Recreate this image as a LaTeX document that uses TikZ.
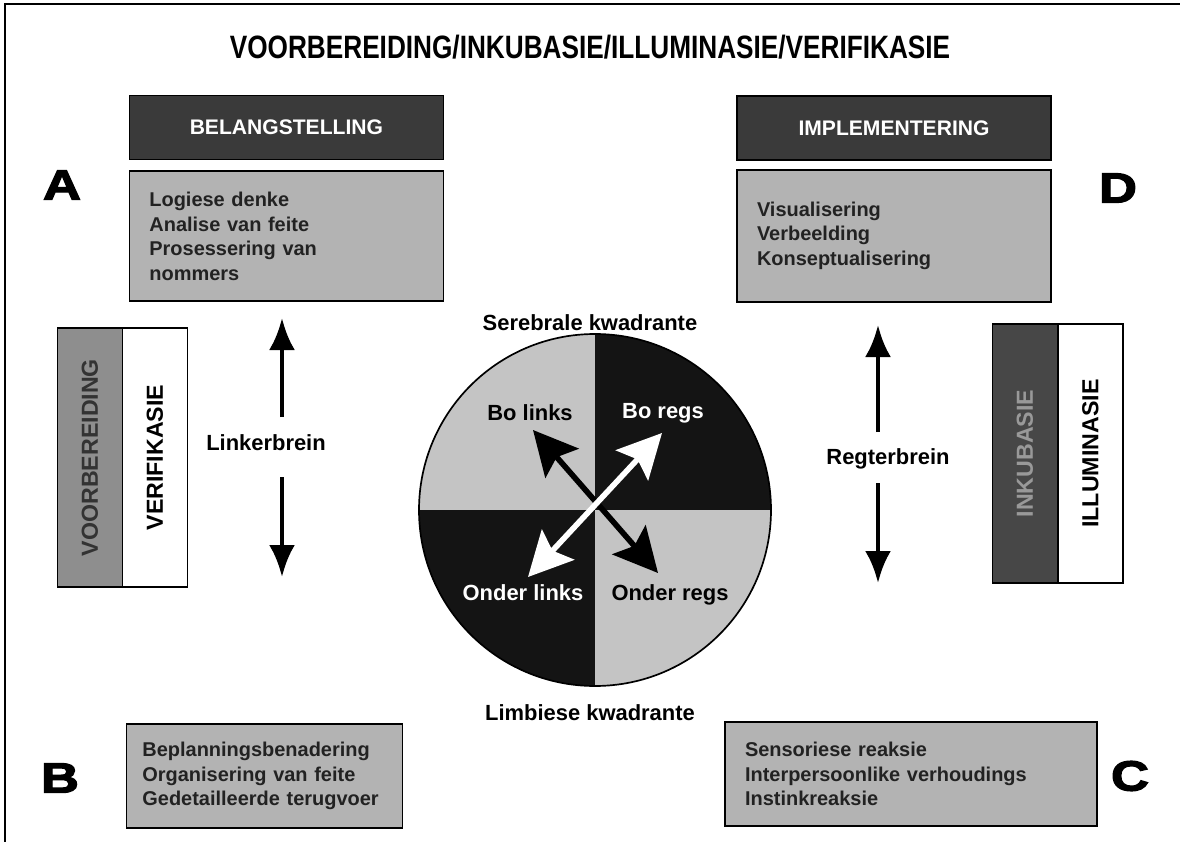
\documentclass[tikz,border=0pt]{standalone}
\usepackage{fontspec}
\setmainfont{Liberation Sans}
\newfontfamily\titlefont{Liberation Sans}[FakeStretch=0.81]
\newfontfamily\heavyfont{Liberation Sans}[FakeBold=3,FakeStretch=1.25]
\usetikzlibrary{positioning,arrows.meta}

\definecolor{hdrgray}{HTML}{3A3A3A}
\definecolor{boxgray}{HTML}{B3B3B3}
\definecolor{stripgray}{HTML}{8E8E8E}
\definecolor{stripdark}{HTML}{474747}
\definecolor{quadlight}{HTML}{C4C4C4}
\definecolor{quaddark}{HTML}{141414}
\definecolor{txtdark}{HTML}{222222}

\begin{document}
\begin{tikzpicture}[
    >=Latex,
    every node/.style={font=\bfseries},
    hdr/.style={
        draw, line width=1.2pt, fill=hdrgray, text=white,
        minimum width=78.5mm, minimum height=16mm,
        font=\bfseries\fontsize{15}{18}\selectfont
    },
    info/.style={
        draw, line width=1.2pt, fill=boxgray, text=txtdark,
        align=left, inner xsep=5mm, inner ysep=0pt,
        font=\bfseries\fontsize{14.2}{17.5}\selectfont
    },
    strip/.style={
        draw, line width=1.2pt, rotate=90,
        minimum width=64.75mm, minimum height=16.25mm,
        font=\bfseries\fontsize{16.5}{18}\selectfont
    },
    lbl/.style={font=\bfseries\fontsize{15.6}{18}\selectfont},
    quad/.style={font=\heavyfont\bfseries\fontsize{30}{30}\selectfont},
    vert/.style={-{Latex[length=8mm,width=6.5mm]}, line width=3.5pt},
    dbl/.style={{Stealth[length=11mm,width=11mm,inset=2mm]}-{Stealth[length=11mm,width=11mm,inset=2mm]},
        line width=4pt}
]

\path[use as bounding box, fill=white] (0,0) rectangle (295mm,-210.5mm);

% ----------------------------------------------------------
% Raam en titel
% ----------------------------------------------------------
\draw[line width=1pt] (1.2mm,-210.5mm) -- (1.2mm,-1mm) -- (295mm,-1mm);
\node[font=\titlefont\bfseries\fontsize{23}{26}\selectfont] (title) at (147.5mm,-11.75mm)
    {VOORBEREIDING/INKUBASIE/ILLUMINASIE/VERIFIKASIE};

% ----------------------------------------------------------
% Boonste blokke: A en D
% ----------------------------------------------------------
\node[hdr] (hdrA) at (71.6mm,-31.9mm) {BELANGSTELLING};
\node[info, text width=68.5mm, minimum height=32.5mm, below=2.5mm of hdrA] (infoA)
    {Logiese denke\\Analise van feite\\Prosessering van\\nommers};

\node[hdr] (hdrD) at (223.5mm,-32mm) {IMPLEMENTERING};
\node[info, text width=68.5mm, minimum height=33mm, below=2mm of hdrD] (infoD)
    {Visualisering\\Verbeelding\\Konseptualisering};

\node[quad] (qA) at (15.5mm,-46.25mm) {A};
\node[quad] (qD) at (279.5mm,-47mm) {D};

% ----------------------------------------------------------
% Onderste blokke: B en C
% ----------------------------------------------------------
\node[info, text width=61mm, inner xsep=4mm, minimum height=26mm] (infoB) at (66.1mm,-194mm)
    {Beplanningsbenadering\\Organisering van feite\\Gedetailleerde terugvoer};
\node[info, text width=83mm, minimum height=26mm] (infoC) at (227.75mm,-193.5mm)
    {Sensoriese reaksie\\Interpersoonlike verhoudings\\Instinkreaksie};

\node[quad] (qB) at (15mm,-194.5mm) {B};
\node[quad] (qC) at (282.5mm,-194mm) {C};

% ----------------------------------------------------------
% Staande stroke links en regs
% ----------------------------------------------------------
\node[strip, fill=stripgray, text=black!80] (voorb) at (22.5mm,-114.4mm) {VOORBEREIDING};
\node[strip, fill=white] (verif) at (38.75mm,-114.4mm) {VERIFIKASIE};
\node[strip, fill=stripdark, text=black!40] (inkub) at (256.25mm,-113.4mm) {INKUBASIE};
\node[strip, fill=white] (illum) at (272.6mm,-113.4mm) {ILLUMINASIE};

% ----------------------------------------------------------
% Linker- en regterbrein
% ----------------------------------------------------------
\node[lbl] (links) at (66.5mm,-110.75mm) {Linkerbrein};
\node[lbl] (regs) at (222mm,-114.75mm) {Regterbrein};

\coordinate (lupA) at (70.5mm,-104.25mm);
\coordinate (lupB) at (70.5mm,-79.5mm);
\coordinate (ldnA) at (70.5mm,-119.25mm);
\coordinate (ldnB) at (70.5mm,-144.25mm);
\coordinate (rupA) at (219.5mm,-108mm);
\coordinate (rupB) at (219.5mm,-81.25mm);
\coordinate (rdnA) at (219.5mm,-120.75mm);
\coordinate (rdnB) at (219.5mm,-145.75mm);

\draw[vert] (lupA) -- (lupB);
\draw[vert] (ldnA) -- (ldnB);
\draw[vert] (rupA) -- (rupB);
\draw[vert] (rdnA) -- (rdnB);

% ----------------------------------------------------------
% Sirkel met vier kwadrante
% ----------------------------------------------------------
\coordinate (wheel) at (148.75mm,-127.5mm);
\def\rad{44mm}
\fill[quadlight] (wheel) -- ++(90:\rad) arc[start angle=90, end angle=180, radius=\rad] -- cycle;
\fill[quaddark]  (wheel) -- ++(0:\rad) arc[start angle=0, end angle=90, radius=\rad] -- cycle;
\fill[quaddark]  (wheel) -- ++(180:\rad) arc[start angle=180, end angle=270, radius=\rad] -- cycle;
\fill[quadlight] (wheel) -- ++(270:\rad) arc[start angle=270, end angle=360, radius=\rad] -- cycle;
\draw[line width=1.2pt] (wheel) circle[radius=\rad];

\node[lbl] (serebraal) at (147.5mm,-80.75mm) {Serebrale kwadrante};
\node[lbl] (limbies) at (147.5mm,-178.25mm) {Limbiese kwadrante};

\node[lbl] (bolinks) at (132.5mm,-103.25mm) {Bo links};
\node[lbl, text=white] (boregs) at (165.75mm,-103.25mm) {Bo regs};
\node[lbl, text=white] (onderlinks) at (130.75mm,-148.25mm) {Onder links};
\node[lbl] (onderregs) at (167.5mm,-148.75mm) {Onder regs};

% pyle deur die middel
\coordinate (blkA) at (133.25mm,-107.5mm);
\coordinate (blkB) at (164.5mm,-143.25mm);
\coordinate (whtA) at (132mm,-144.25mm);
\coordinate (whtB) at (165.5mm,-108.25mm);
\draw[dbl, black] (blkA) -- (blkB);
\draw[dbl, white] (whtA) -- (whtB);

\end{tikzpicture}
\end{document}
